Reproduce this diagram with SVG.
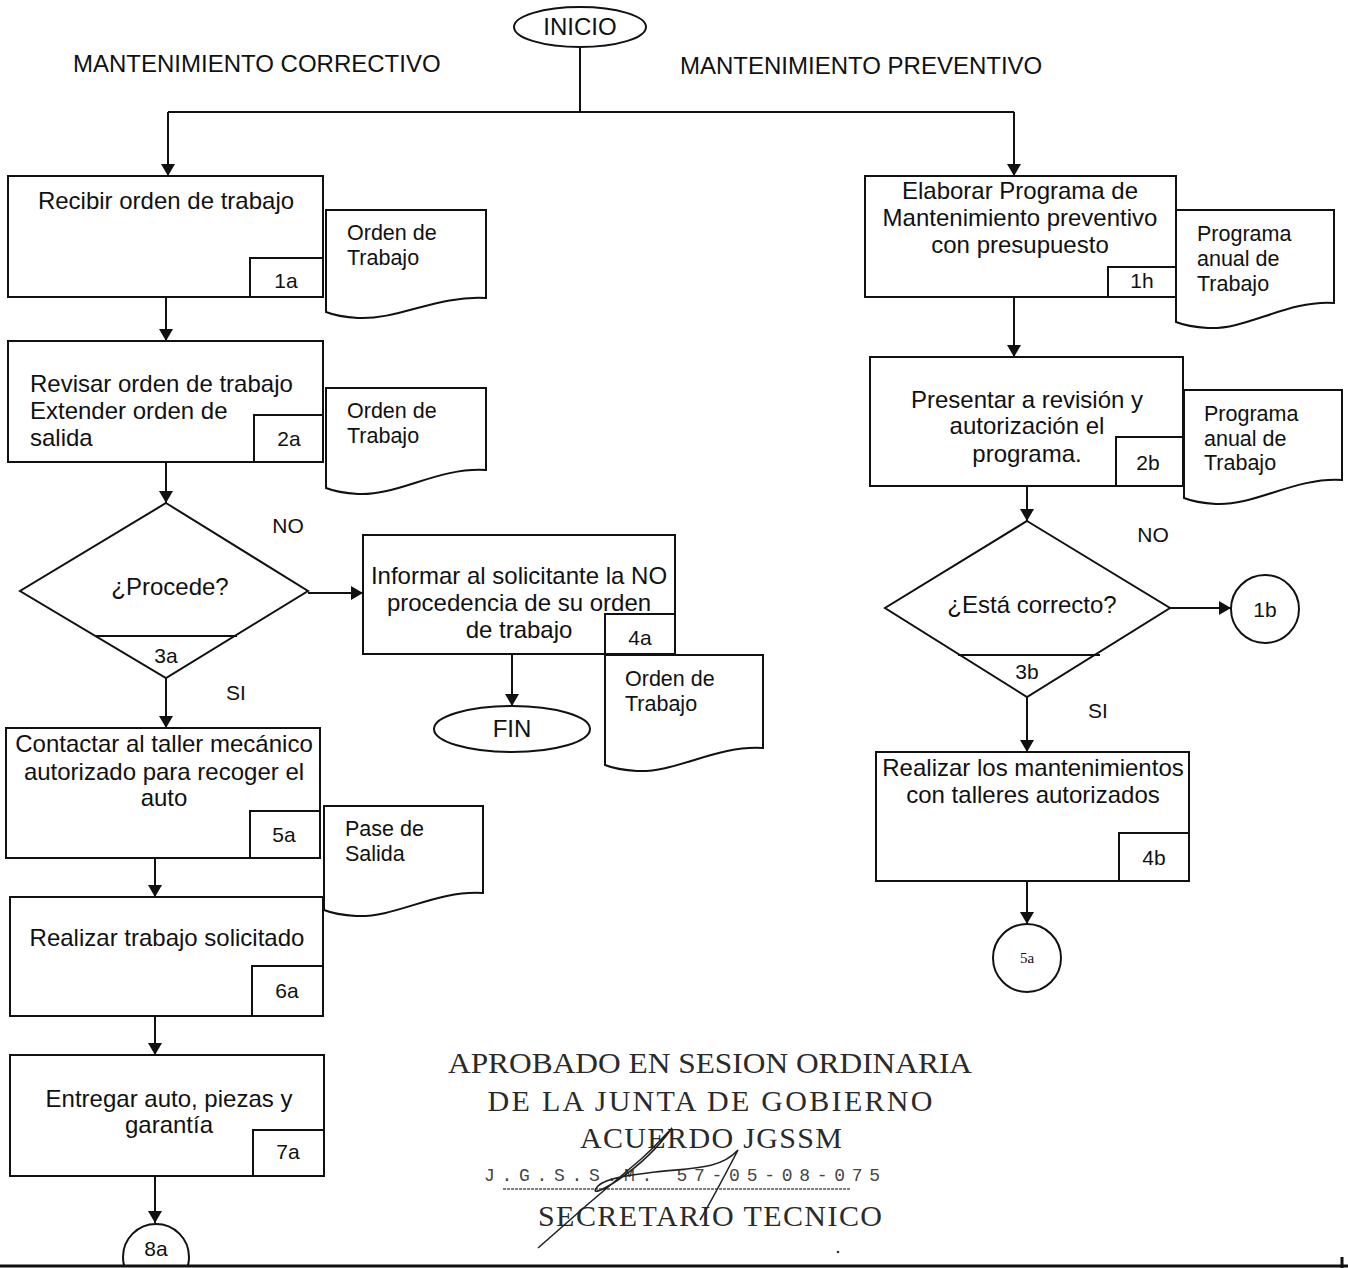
<svg xmlns="http://www.w3.org/2000/svg" width="1348" height="1268" viewBox="0 0 1348 1268">
  <style>
    .shape { fill: #fff; stroke: #111; stroke-width: 2; }
    .line { fill: none; stroke: #111; stroke-width: 2; }
    .t { font-family: "Liberation Sans", Arial, sans-serif; font-size: 24px; fill: #111; }
    .doc { font-family: "Liberation Sans", Arial, sans-serif; font-size: 21.5px; fill: #111; }
    .lbl { font-family: "Liberation Sans", Arial, sans-serif; font-size: 21px; fill: #111; text-anchor: middle; }
    .c { text-anchor: middle; }
    .stamp { font-family: "Liberation Serif", "Times New Roman", serif; font-size: 30px; fill: #2a2a2a; text-anchor: middle; }
  </style>
  <defs>
    <marker id="arr" viewBox="0 0 12 14" markerWidth="12" markerHeight="14" refX="12" refY="7" orient="auto" markerUnits="userSpaceOnUse">
      <path d="M0,0 L12,7 L0,14 Z" fill="#111"/>
    </marker>
    <clipPath id="pageClip"><rect x="0" y="0" width="1348" height="1265"/></clipPath>
  </defs>
  <rect width="1348" height="1268" fill="#fff"/>

  <!-- section headings -->
  <text class="t" x="73" y="72" font-size="23">MANTENIMIENTO CORRECTIVO</text>
  <text class="t" x="680" y="74" font-size="23">MANTENIMIENTO PREVENTIVO</text>

  <!-- connectors -->
  <g id="connectors">
    <path class="line" d="M580,47 V112"/>
    <path class="line" d="M168,112 H1014"/>
    <path class="line" d="M168,112 V176" marker-end="url(#arr)"/>
    <path class="line" d="M1014,112 V176" marker-end="url(#arr)"/>
    <path class="line" d="M166,297 V341" marker-end="url(#arr)"/>
    <path class="line" d="M166,462 V503" marker-end="url(#arr)"/>
    <path class="line" d="M308,593 H363" marker-end="url(#arr)"/>
    <path class="line" d="M512,654 V706" marker-end="url(#arr)"/>
    <path class="line" d="M166,678 V728" marker-end="url(#arr)"/>
    <path class="line" d="M155,858 V897" marker-end="url(#arr)"/>
    <path class="line" d="M155,1016 V1055" marker-end="url(#arr)"/>
    <path class="line" d="M155,1176 V1223" marker-end="url(#arr)"/>
    <path class="line" d="M1014,297 V357" marker-end="url(#arr)"/>
    <path class="line" d="M1027,486 V521" marker-end="url(#arr)"/>
    <path class="line" d="M1170,608 H1231" marker-end="url(#arr)"/>
    <path class="line" d="M1027,697 V752" marker-end="url(#arr)"/>
    <path class="line" d="M1027,881 V924" marker-end="url(#arr)"/>
  </g>

  <!-- start terminal -->
  <g id="inicio">
    <ellipse class="shape" cx="580" cy="27" rx="66" ry="20"/>
    <text class="t c" x="580" y="35" font-size="22">INICIO</text>
  </g>

  <!-- corrective branch -->
  <g id="step-1a">
    <rect class="shape" x="8" y="176" width="315" height="121"/>
    <text class="t c" x="166" y="209">Recibir orden de trabajo</text>
    <rect class="shape" x="250" y="258" width="73" height="39"/>
    <text class="lbl" x="286" y="288">1a</text>
  </g>
  <g id="doc-1a">
    <path class="shape" d="M326,210 H486 V298 C438,295 398,320 358,318 C342,317 331,314 326,312 Z"/>
    <text class="doc" x="347" y="240">Orden de</text>
    <text class="doc" x="347" y="265">Trabajo</text>
  </g>

  <g id="step-2a">
    <rect class="shape" x="8" y="341" width="315" height="121"/>
    <text class="t" x="30" y="392">Revisar orden de trabajo</text>
    <text class="t" x="30" y="419">Extender orden de</text>
    <text class="t" x="30" y="446">salida</text>
    <rect class="shape" x="254" y="415" width="69" height="47"/>
    <text class="lbl" x="289" y="446">2a</text>
  </g>
  <g id="doc-2a">
    <path class="shape" d="M326,388 H486 V470 C438,467 398,496 358,494 C342,493 331,490 326,488 Z"/>
    <text class="doc" x="347" y="418">Orden de</text>
    <text class="doc" x="347" y="443">Trabajo</text>
  </g>

  <g id="decision-3a">
    <path class="shape" d="M166,503 L308,591 L166,678 L20,591 Z"/>
    <path class="line" d="M95,636 H237"/>
    <text class="t c" x="170" y="595">¿Procede?</text>
    <text class="lbl" x="166" y="663">3a</text>
  </g>
  <text class="lbl" x="288" y="533">NO</text>
  <text class="lbl" x="236" y="700">SI</text>

  <g id="step-4a">
    <rect class="shape" x="363" y="535" width="312" height="119"/>
    <text class="t c" x="519" y="584">Informar al solicitante la NO</text>
    <text class="t c" x="519" y="611">procedencia de su orden</text>
    <text class="t c" x="519" y="638">de trabajo</text>
    <rect class="line" x="605" y="614" width="70" height="40"/>
    <text class="lbl" x="640" y="645">4a</text>
  </g>
  <g id="doc-4a">
    <path class="shape" d="M605,655 H763 V748 C716,745 676,773 637,771 C621,770 610,767 605,765 Z"/>
    <text class="doc" x="625" y="686">Orden de</text>
    <text class="doc" x="625" y="711">Trabajo</text>
  </g>
  <g id="fin">
    <ellipse class="shape" cx="512" cy="729" rx="78" ry="23"/>
    <text class="t c" x="512" y="737" font-size="23">FIN</text>
  </g>

  <g id="step-5a">
    <rect class="shape" x="6" y="728" width="314" height="130"/>
    <text class="t c" x="164" y="752">Contactar al taller mecánico</text>
    <text class="t c" x="164" y="780">autorizado para recoger el</text>
    <text class="t c" x="164" y="806">auto</text>
    <rect class="shape" x="250" y="811" width="70" height="47"/>
    <text class="lbl" x="284" y="842">5a</text>
  </g>
  <g id="doc-5a">
    <path class="shape" d="M324,806 H483 V893 C435,890 396,918 356,916 C340,915 329,912 324,910 Z"/>
    <text class="doc" x="345" y="836">Pase de</text>
    <text class="doc" x="345" y="861">Salida</text>
  </g>

  <g id="step-6a">
    <rect class="shape" x="10" y="897" width="313" height="119"/>
    <text class="t c" x="167" y="946">Realizar trabajo solicitado</text>
    <rect class="shape" x="252" y="966" width="71" height="50"/>
    <text class="lbl" x="287" y="998">6a</text>
  </g>

  <g id="step-7a">
    <rect class="shape" x="10" y="1055" width="314" height="121"/>
    <text class="t c" x="169" y="1107">Entregar auto, piezas y</text>
    <text class="t c" x="169" y="1133">garantía</text>
    <rect class="shape" x="253" y="1130" width="71" height="46"/>
    <text class="lbl" x="288" y="1159">7a</text>
  </g>

  <g id="connector-8a" clip-path="url(#pageClip)">
    <circle class="shape" cx="156" cy="1257" r="33"/>
    <text class="lbl" x="156" y="1256">8a</text>
  </g>

  <!-- preventive branch -->
  <g id="step-1h">
    <rect class="shape" x="865" y="176" width="311" height="121"/>
    <text class="t c" x="1020" y="199">Elaborar Programa de</text>
    <text class="t c" x="1020" y="226">Mantenimiento preventivo</text>
    <text class="t c" x="1020" y="253">con presupuesto</text>
    <rect class="shape" x="1108" y="267" width="68" height="30"/>
    <text class="lbl" x="1142" y="288">1h</text>
  </g>
  <g id="doc-1h">
    <path class="shape" d="M1176,210 H1334 V303 C1287,300 1247,330 1208,328 C1192,327 1181,324 1176,322 Z"/>
    <text class="doc" x="1197" y="241">Programa</text>
    <text class="doc" x="1197" y="266">anual de</text>
    <text class="doc" x="1197" y="291">Trabajo</text>
  </g>

  <g id="step-2b">
    <rect class="shape" x="870" y="357" width="313" height="129"/>
    <text class="t c" x="1027" y="408">Presentar a revisión y</text>
    <text class="t c" x="1027" y="434">autorización el</text>
    <text class="t c" x="1027" y="462">programa.</text>
    <rect class="shape" x="1116" y="437" width="67" height="49"/>
    <text class="lbl" x="1148" y="470">2b</text>
  </g>
  <g id="doc-2b">
    <path class="shape" d="M1184,390 H1342 V480 C1295,477 1255,506 1216,504 C1200,503 1189,500 1184,498 Z"/>
    <text class="doc" x="1204" y="421">Programa</text>
    <text class="doc" x="1204" y="446">anual de</text>
    <text class="doc" x="1204" y="470">Trabajo</text>
  </g>

  <g id="decision-3b">
    <path class="shape" d="M1027,521 L1170,608 L1027,697 L885,608 Z"/>
    <path class="line" d="M958,655 H1100"/>
    <text class="t c" x="1032" y="613">¿Está correcto?</text>
    <text class="lbl" x="1027" y="679">3b</text>
  </g>
  <text class="lbl" x="1153" y="542">NO</text>
  <text class="lbl" x="1098" y="718">SI</text>

  <g id="connector-1b">
    <circle class="shape" cx="1265" cy="609" r="34"/>
    <text class="lbl" x="1265" y="617">1b</text>
  </g>

  <g id="step-4b">
    <rect class="shape" x="876" y="752" width="313" height="129"/>
    <text class="t c" x="1033" y="776">Realizar los mantenimientos</text>
    <text class="t c" x="1033" y="803">con talleres autorizados</text>
    <rect class="shape" x="1119" y="833" width="70" height="48"/>
    <text class="lbl" x="1154" y="865">4b</text>
  </g>

  <g id="connector-5a">
    <circle class="shape" cx="1027" cy="958" r="34"/>
    <text x="1027" y="963" font-family="'Liberation Serif', 'Times New Roman', serif" font-size="15" text-anchor="middle" fill="#111">5a</text>
  </g>

  <!-- approval stamp -->
  <g id="stamp">
    <text class="stamp" x="710" y="1073" textLength="524" lengthAdjust="spacingAndGlyphs">APROBADO EN SESION ORDINARIA</text>
    <text class="stamp" x="710" y="1111" textLength="445" lengthAdjust="spacing">DE LA JUNTA DE GOBIERNO</text>
    <text class="stamp" x="711" y="1148" textLength="262" lengthAdjust="spacing">ACUERDO JGSSM</text>
    <text x="682" y="1181" font-family="'Liberation Mono', 'Courier New', monospace" font-size="18" fill="#444" text-anchor="middle" textLength="396" lengthAdjust="spacing">J.G.S.S.M. 57-05-08-075</text>
    <path d="M503,1189 H850" stroke="#555" stroke-width="1.5" stroke-dasharray="3 1" fill="none"/>
    <text class="stamp" x="710" y="1226" textLength="344" lengthAdjust="spacing">SECRETARIO TECNICO</text>
    <!-- signature stroke -->
    <path d="M538,1248 C575,1215 610,1185 640,1160 C655,1147 668,1132 672,1128 C660,1145 640,1165 618,1180 C600,1192 590,1195 598,1186 C606,1178 630,1175 655,1172 C690,1168 720,1170 738,1150 C725,1175 712,1200 700,1220" fill="none" stroke="#222" stroke-width="1.6"/>
    <circle cx="838" cy="1252" r="1.3" fill="#333"/>
  </g>

  <!-- page rule -->
  <path d="M0,1266 H1348" stroke="#111" stroke-width="3"/>
  <path d="M1342,1257 V1268" stroke="#111" stroke-width="3"/>
</svg>
